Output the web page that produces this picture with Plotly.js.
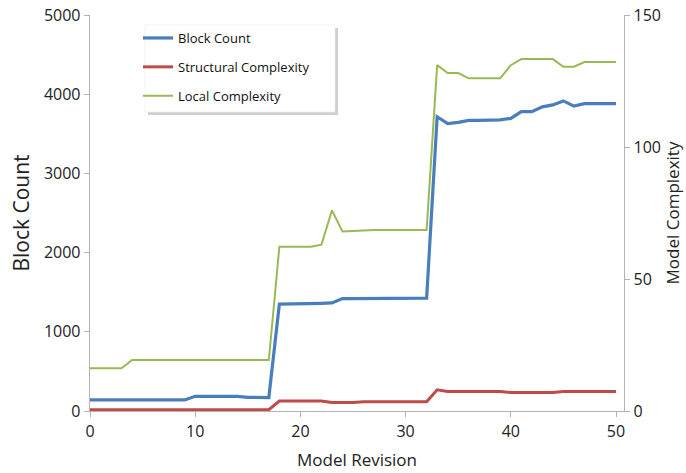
<!DOCTYPE html>
<html>
<head>
<meta charset="utf-8">
<script src="https://cdn.plot.ly/plotly-3.0.1.min.js"></script>
<style>html,body{margin:0;padding:0;background:#fff}#chart{width:686px;height:473px}</style>
</head>
<body>
<div id="chart"></div>
<script>
const revision = [0,1,2,3,4,5,6,7,8,9,10,11,12,13,14,15,16,17,18,19,20,21,22,23,24,25,26,27,28,29,30,31,32,33,34,35,36,37,38,39,40,41,42,43,44,45,46,47,48,49,50];
const blockCount = [140,140,140,140,140,140,140,140,140,140,185,185,185,185,185,172,170,170,1350,1350,1352,1356,1360,1365,1420,1420,1420,1420,1420,1420,1420,1420,1425,3715,3630,3645,3670,3670,3672,3675,3695,3780,3780,3840,3865,3915,3850,3880,3880,3880,3880];
const structuralComplexity = [0.5,0.5,0.5,0.5,0.5,0.5,0.5,0.5,0.5,0.5,0.5,0.5,0.5,0.5,0.5,0.5,0.5,0.5,3.8,3.8,3.8,3.8,3.8,3.2,3.2,3.2,3.5,3.5,3.5,3.5,3.5,3.5,3.5,8.0,7.4,7.4,7.4,7.4,7.4,7.4,7.0,7.0,7.0,7.0,7.0,7.4,7.4,7.4,7.4,7.4,7.4];
const localComplexity = [16.2,16.2,16.2,16.2,19.3,19.3,19.3,19.3,19.3,19.3,19.3,19.3,19.3,19.3,19.3,19.3,19.3,19.3,62.2,62.2,62.2,62.2,63,76,68,68.2,68.6,68.6,68.6,68.6,68.6,68.6,68.6,131,128,128,126,126,126,126,131,133.3,133.3,133.3,133.3,130.4,130.4,132.2,132.2,132.2,132.2];
const xTicks = [0,10,20,30,40,50];
const leftTicks = [0,1000,2000,3000,4000,5000];
const rightTicks = [0,50,100,150];

const FONT = "Open Sans, Liberation Sans, sans-serif";
const axisCol = "#b3b3b3";

const traces = [
  {x: revision, y: blockCount, name: "Block Count", type: "scatter", mode: "lines",
   line: {color: "#4a7ebb", width: 3.2}, yaxis: "y", legendgroup: "a"},
  {x: revision, y: structuralComplexity, name: "Structural Complexity", type: "scatter", mode: "lines",
   line: {color: "#be4b48", width: 3}, yaxis: "y2", legendgroup: "b"},
  {x: revision, y: localComplexity, name: "Local Complexity", type: "scatter", mode: "lines",
   line: {color: "#98b954", width: 2}, yaxis: "y2", legendgroup: "c"}
];

// plot area: x 90..624, y 15..411
const pw = 534, ph = 396;
function px(x){return (x-90)/pw;}
function py(y){return (411-y)/ph;}

const layout = {
  width: 686, height: 473,
  margin: {l: 90, r: 62, t: 15, b: 62},
  paper_bgcolor: "#fff", plot_bgcolor: "#fff",
  font: {family: FONT, color: "#222"},
  showlegend: true,
  legend: {x: px(138), y: py(23), xanchor: "left", yanchor: "top",
    bgcolor: "rgba(0,0,0,0)", borderwidth: 0, traceorder: "grouped", tracegroupgap: 9,
    font: {family: FONT, size: 13, color: "#111"}},
  xaxis: {range: [0, 50.76], tickvals: xTicks, ticktext: xTicks.map(String),
    showgrid: false, zeroline: false, showline: true, linecolor: axisCol, linewidth: 1.3,
    ticks: "outside", ticklen: 5, tickcolor: axisCol, tickfont: {size: 16, family: FONT, color: "#222"},
    title: {text: "Model Revision", font: {size: 17, family: FONT, color: "#222"}, standoff: 13}},
  yaxis: {range: [0, 5000], tickvals: leftTicks, ticktext: leftTicks.map(String),
    showgrid: false, zeroline: false, showline: true, linecolor: axisCol, linewidth: 1.3,
    ticks: "outside", ticklen: 5, tickcolor: axisCol, tickfont: {size: 16, family: FONT, color: "#222"},
    title: {text: "Block Count", font: {size: 21, family: FONT, color: "#222"}, standoff: 8}},
  yaxis2: {range: [0, 150], tickvals: rightTicks, ticktext: rightTicks.map(String),
    overlaying: "y", side: "right", anchor: "x",
    showgrid: false, zeroline: false, showline: true, linecolor: axisCol, linewidth: 1.3,
    ticks: "outside", ticklen: 5, tickcolor: axisCol, tickfont: {size: 16, family: FONT, color: "#222"},
    title: {text: "Model Complexity", font: {size: 17, family: FONT, color: "#222"}, standoff: 6}},
  shapes: [
    {type: "rect", xref: "paper", yref: "paper", x0: px(148), x1: px(338), y0: py(115), y1: py(28),
     fillcolor: "#cfcfcf", line: {width: 0}, layer: "above"},
    {type: "rect", xref: "paper", yref: "paper", x0: px(145), x1: px(335), y0: py(112), y1: py(25),
     fillcolor: "#ffffff", line: {width: 0.6, color: "#ececec"}, layer: "above"}
  ]
};

Plotly.newPlot("chart", traces, layout, {staticPlot: true, displayModeBar: false});
</script>
</body>
</html>
